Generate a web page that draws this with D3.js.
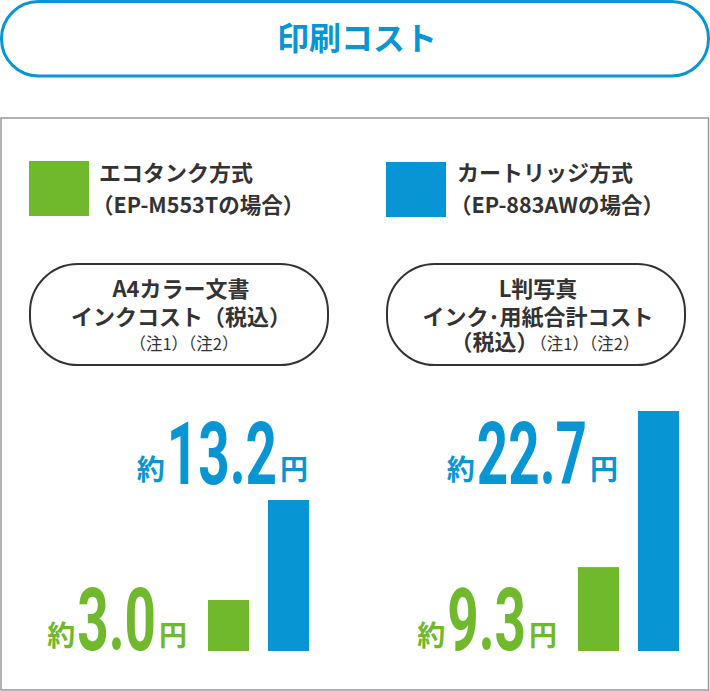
<!DOCTYPE html>
<html><head><meta charset="utf-8">
<script src="https://cdn.jsdelivr.net/npm/d3@7"></script>
<style>html,body{margin:0;padding:0;background:#fff} svg{display:block}</style>
</head><body><svg id="c" width="710" height="691"></svg>
<script>
// ---- data ----
const title = "印刷コスト";
const seriesNames = ["エコタンク方式", "カートリッジ方式"];
const seriesModels = ["（EP-M553Tの場合）", "（EP-883AWの場合）"];
const seriesKeys = ["eco", "cartridge"];
const categoryLines = [
  ["A4カラー文書", "インクコスト（税込）"],
  ["L判写真", "インク･用紙合計コスト"]
];
const categoryNotes = [
  [{t: "（注1）（注2）", b: false}],
  [{t: "（税込）", b: true}, {t: "（注1）（注2）", b: false}]
];
const ecoValues = [3.0, 9.3];
const cartridgeValues = [13.2, 22.7];
const valuePrefix = "約";
const valueSuffix = "円";
const panelDomains = [[-2.2, 13.2], [2.1, 22.7]];

// ---- styles / layout ----
const colors = {eco: "#70b82c", cartridge: "#0795d3"};
const TXT = "#333333";
const JP = "'Noto Sans CJK JP','Noto Sans',sans-serif";
const NUM = "Roboto,'Liberation Sans',sans-serif";

const svg = d3.select("#c");

// title pill
svg.append("rect").attr("x", 1.5).attr("y", 1.5).attr("width", 707).attr("height", 74.5)
  .attr("rx", 37).attr("ry", 37).attr("fill", "#fff").attr("stroke", colors.cartridge).attr("stroke-width", 3);
svg.append("text").attr("x", 357).attr("y", 50).attr("text-anchor", "middle")
  .attr("font-family", JP).attr("font-weight", 700).attr("font-size", 32)
  .attr("fill", colors.cartridge).text(title);

// outer panel
svg.append("rect").attr("x", 1).attr("y", 118).attr("width", 707.5).attr("height", 572)
  .attr("fill", "none").attr("stroke", "#999").attr("stroke-width", 1.5);

// legend
const legendPos = [{sx: 29, sy: 161, tx: 99, tx2: 92}, {sx: 386, sy: 162, tx: 457, tx2: 450}];
seriesKeys.forEach((k, i) => {
  const p = legendPos[i];
  svg.append("rect").attr("x", p.sx).attr("y", p.sy).attr("width", 60).attr("height", 55).attr("fill", colors[k]);
  svg.append("text").attr("x", p.tx).attr("y", 181).attr("font-family", JP).attr("font-weight", 700)
    .attr("font-size", 22).attr("fill", TXT).text(seriesNames[i]);
  svg.append("text").attr("x", p.tx2).attr("y", 213).attr("font-family", JP).attr("font-weight", 700)
    .attr("font-size", 21.5).attr("fill", TXT).text(seriesModels[i]);
});

// panels
const panels = [
  {box: [30, 328], bars: [208, 309], blueAnchor: "cartridge"},
  {box: [387, 685], bars: [578, 679], blueAnchor: "eco"}
];
const baseY = 651;
const topY = [500, 411];

function valueLabel(v, color, rightX, baseline) {
  const grp = svg.append("g");
  let x = 0;
  const pre = grp.append("text").attr("x", 0).attr("y", -4).attr("font-family", JP).attr("font-weight", 700)
    .attr("font-size", 28).attr("fill", color).text(valuePrefix);
  x += pre.node().getComputedTextLength() + 2;
  const sx = 0.63;
  const num = grp.append("text").attr("transform", `translate(${x},0) scale(${sx},1)`)
    .attr("font-family", NUM).attr("font-weight", 700).attr("font-size", 87).attr("fill", color)
    .text(v.toFixed(1));
  x += num.node().getComputedTextLength() * sx + 3;
  const suf = grp.append("text").attr("x", x).attr("y", -4).attr("font-family", JP).attr("font-weight", 700)
    .attr("font-size", 28).attr("fill", color).text(valueSuffix);
  x += suf.node().getComputedTextLength();
  grp.attr("transform", `translate(${rightX - x},${baseline})`);
}

panels.forEach((p, i) => {
  // category pill
  svg.append("rect").attr("x", p.box[0]).attr("y", 264).attr("width", p.box[1] - p.box[0]).attr("height", 101)
    .attr("rx", 48).attr("ry", 48).attr("fill", "#fff").attr("stroke", TXT).attr("stroke-width", 2);
  const cx = (p.box[0] + p.box[1]) / 2 + 2;
  categoryLines[i].forEach((ln, j) => {
    svg.append("text").attr("x", cx).attr("y", 297 + j * 28).attr("text-anchor", "middle")
      .attr("font-family", JP).attr("font-weight", 700).attr("font-size", 22).attr("fill", TXT).text(ln);
  });
  const note = svg.append("text").attr("x", cx + (i === 1 ? 7 : 3)).attr("y", 350).attr("text-anchor", "middle")
    .attr("font-family", JP).attr("fill", TXT);
  categoryNotes[i].forEach(s => {
    note.append("tspan").attr("font-weight", s.b ? 700 : 400).attr("font-size", s.b ? 22 : 16.5).text(s.t);
  });

  // bars
  const x = d3.scaleBand().domain(seriesKeys).range(p.bars).paddingInner(0.317).paddingOuter(0);
  const y = d3.scaleLinear().domain(panelDomains[i]).range([baseY, topY[i]]);
  const vals = {eco: ecoValues[i], cartridge: cartridgeValues[i]};
  svg.append("g").selectAll("rect").data(seriesKeys).join("rect")
    .attr("x", d => x(d)).attr("width", x.bandwidth())
    .attr("y", d => y(vals[d])).attr("height", d => baseY - y(vals[d]))
    .attr("fill", d => colors[d]);

  // value labels
  valueLabel(vals.eco, colors.eco, x("eco") - 21, 650);
  valueLabel(vals.cartridge, colors.cartridge, x(p.blueAnchor) + x.bandwidth() - 1, 484);
});
</script></body></html>
